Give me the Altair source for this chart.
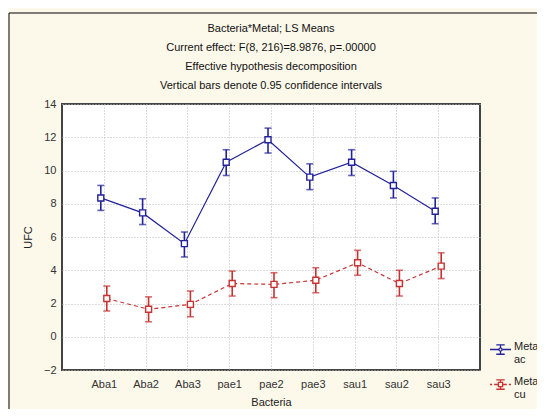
import altair as alt
import pandas as pd

bacteria = ["Aba1", "Aba2", "Aba3", "pae1", "pae2", "pae3", "sau1", "sau2", "sau3"]
ac_mean = [8.35, 7.45, 5.6, 10.5, 11.85, 9.6, 10.5, 9.1, 7.55]
ac_lo = [7.6, 6.75, 4.8, 9.7, 11.05, 8.85, 9.7, 8.35, 6.8]
ac_hi = [9.1, 8.3, 6.3, 11.25, 12.55, 10.4, 11.25, 9.95, 8.35]
cu_mean = [2.3, 1.65, 1.95, 3.2, 3.15, 3.4, 4.45, 3.2, 4.25]
cu_lo = [1.55, 0.9, 1.2, 2.45, 2.35, 2.65, 3.7, 2.45, 3.5]
cu_hi = [3.05, 2.4, 2.75, 3.95, 3.85, 4.15, 5.2, 4.0, 5.05]
metals = ["ac", "cu"]
colors = ["#22229a", "#c83232"]
title_lines = [
    "Bacteria*Metal; LS Means",
    "Current effect: F(8, 216)=8.9876, p=.00000",
    "Effective hypothesis decomposition",
    "Vertical bars denote 0.95 confidence intervals",
]
legend_shapes = [
    "M-1,0H-0.15M0.15,0H1M0,-0.45V-0.15M0,0.15V0.45M-0.4,-0.45H0.4M-0.4,0.45H0.4M0.15,0A0.15,0.15 0 1,1 -0.15,0A0.15,0.15 0 1,1 0.15,0",
    "M-1,0H-0.8M-0.6,0H-0.2M0.2,0H0.6M0.8,0H1M0,-0.45V-0.2M0,0.2V0.45M-0.4,-0.45H0.4M-0.4,0.45H0.4M-0.2,-0.2H0.2V0.2H-0.2Z",
]

rows = []
for m, means, los, his in [("ac", ac_mean, ac_lo, ac_hi), ("cu", cu_mean, cu_lo, cu_hi)]:
    for b, v, lo, hi in zip(bacteria, means, los, his):
        rows.append({"Bacteria": b, "Metal": m, "UFC": v, "lo": lo, "hi": hi})
df = pd.DataFrame(rows)

FONT = "Liberation Sans"

x_enc = alt.X(
    "Bacteria:N",
    sort=bacteria,
    scale=alt.Scale(type="point", padding=1),
    axis=alt.Axis(
        title="Bacteria", labelAngle=0, ticks=False, labelPadding=8,
        titlePadding=7, grid=True, gridDash=[1, 2], gridColor="#b8b8b8",
        domain=False, labelFont=FONT, titleFont=FONT, labelFontSize=11,
        titleFontSize=11, titleFontWeight="normal", labelColor="#333", titleColor="#222",
    ),
)
y_scale = alt.Scale(domain=[-2, 14], nice=False, zero=False)
y_axis = alt.Axis(
    title="UFC", values=list(range(-2, 15, 2)), ticks=False, labelPadding=6,
    titlePadding=10, grid=True, gridDash=[1, 2], gridColor="#b8b8b8", domain=False,
    labelFont=FONT, titleFont=FONT, labelFontSize=11, titleFontSize=11,
    titleFontWeight="normal", labelColor="#333", titleColor="#222",
)
legend = alt.Legend(
    title=None, orient="none", legendX=427, legendY=234, padding=0,
    labelFont=FONT, labelFontSize=11, labelColor="#222",
    labelExpr="['Metal', datum.label]", labelBaseline="alphabetic",
    rowPadding=8, labelOffset=2,
    symbolSize=441, symbolStrokeWidth=1.3, symbolOpacity=1,
    symbolFillColor="transparent", symbolDash=[],
)
color_enc = alt.Color("Metal:N", scale=alt.Scale(domain=metals, range=colors), legend=legend)
shape_enc = alt.Shape("Metal:N", scale=alt.Scale(domain=metals, range=legend_shapes), legend=legend)

layers = []
for i, m in enumerate(metals):
    off = -3 if m == "ac" else 3
    base = alt.Chart(df).transform_filter(alt.datum.Metal == m)
    line = base.mark_line(
        xOffset=off, strokeWidth=1.2, strokeDash=[] if m == "ac" else [4, 3]
    ).encode(x=x_enc, y=alt.Y("UFC:Q", scale=y_scale, axis=y_axis), color=color_enc)
    rule = base.mark_rule(xOffset=off, strokeWidth=1.6, color=colors[i]).encode(
        x=x_enc, y=alt.Y("lo:Q", scale=y_scale, axis=y_axis), y2="hi:Q"
    )
    cap_lo = base.mark_tick(xOffset=off, size=7, thickness=1.6, color=colors[i]).encode(
        x=x_enc, y=alt.Y("lo:Q", scale=y_scale, axis=y_axis)
    )
    cap_hi = base.mark_tick(xOffset=off, size=7, thickness=1.6, color=colors[i]).encode(
        x=x_enc, y=alt.Y("hi:Q", scale=y_scale, axis=y_axis)
    )
    pts = base.mark_point(
        xOffset=off, shape="square", size=36, filled=False, fill="white",
        fillOpacity=1, strokeWidth=1.4, color=colors[i], opacity=1,
    ).encode(x=x_enc, y=alt.Y("UFC:Q", scale=y_scale, axis=y_axis))
    layers += [line, rule, cap_lo, cap_hi, pts]

legend_driver = alt.Chart(df).mark_point(opacity=0, filled=False).encode(
    x=x_enc, y=alt.Y("UFC:Q", scale=y_scale, axis=y_axis),
    color=color_enc, shape=shape_enc,
)

frame = alt.Chart(pd.DataFrame({"a": [0]})).mark_rect(
    fill="transparent", stroke="black", strokeWidth=1
).encode(
    x=alt.value(-53), x2=alt.value(800), y=alt.value(-91), y2=alt.value(800)
)

chart = alt.layer(frame, *layers, legend_driver).properties(
    width=418,
    height=266,
    autosize=alt.AutoSizeParams(type="none"),
    padding={"left": 54, "top": 96, "right": 57, "bottom": 39},
    background="#fcf8ea",
    title=alt.TitleParams(
        text=title_lines, font=FONT, fontSize=11, fontWeight="normal",
        lineHeight=19, anchor="middle", offset=-78, color="#111",
    ),
).configure_view(
    fill="white", stroke="#444444", strokeWidth=2
)

chart.save("out.html", embed_options={"renderer": "svg", "actions": False})
